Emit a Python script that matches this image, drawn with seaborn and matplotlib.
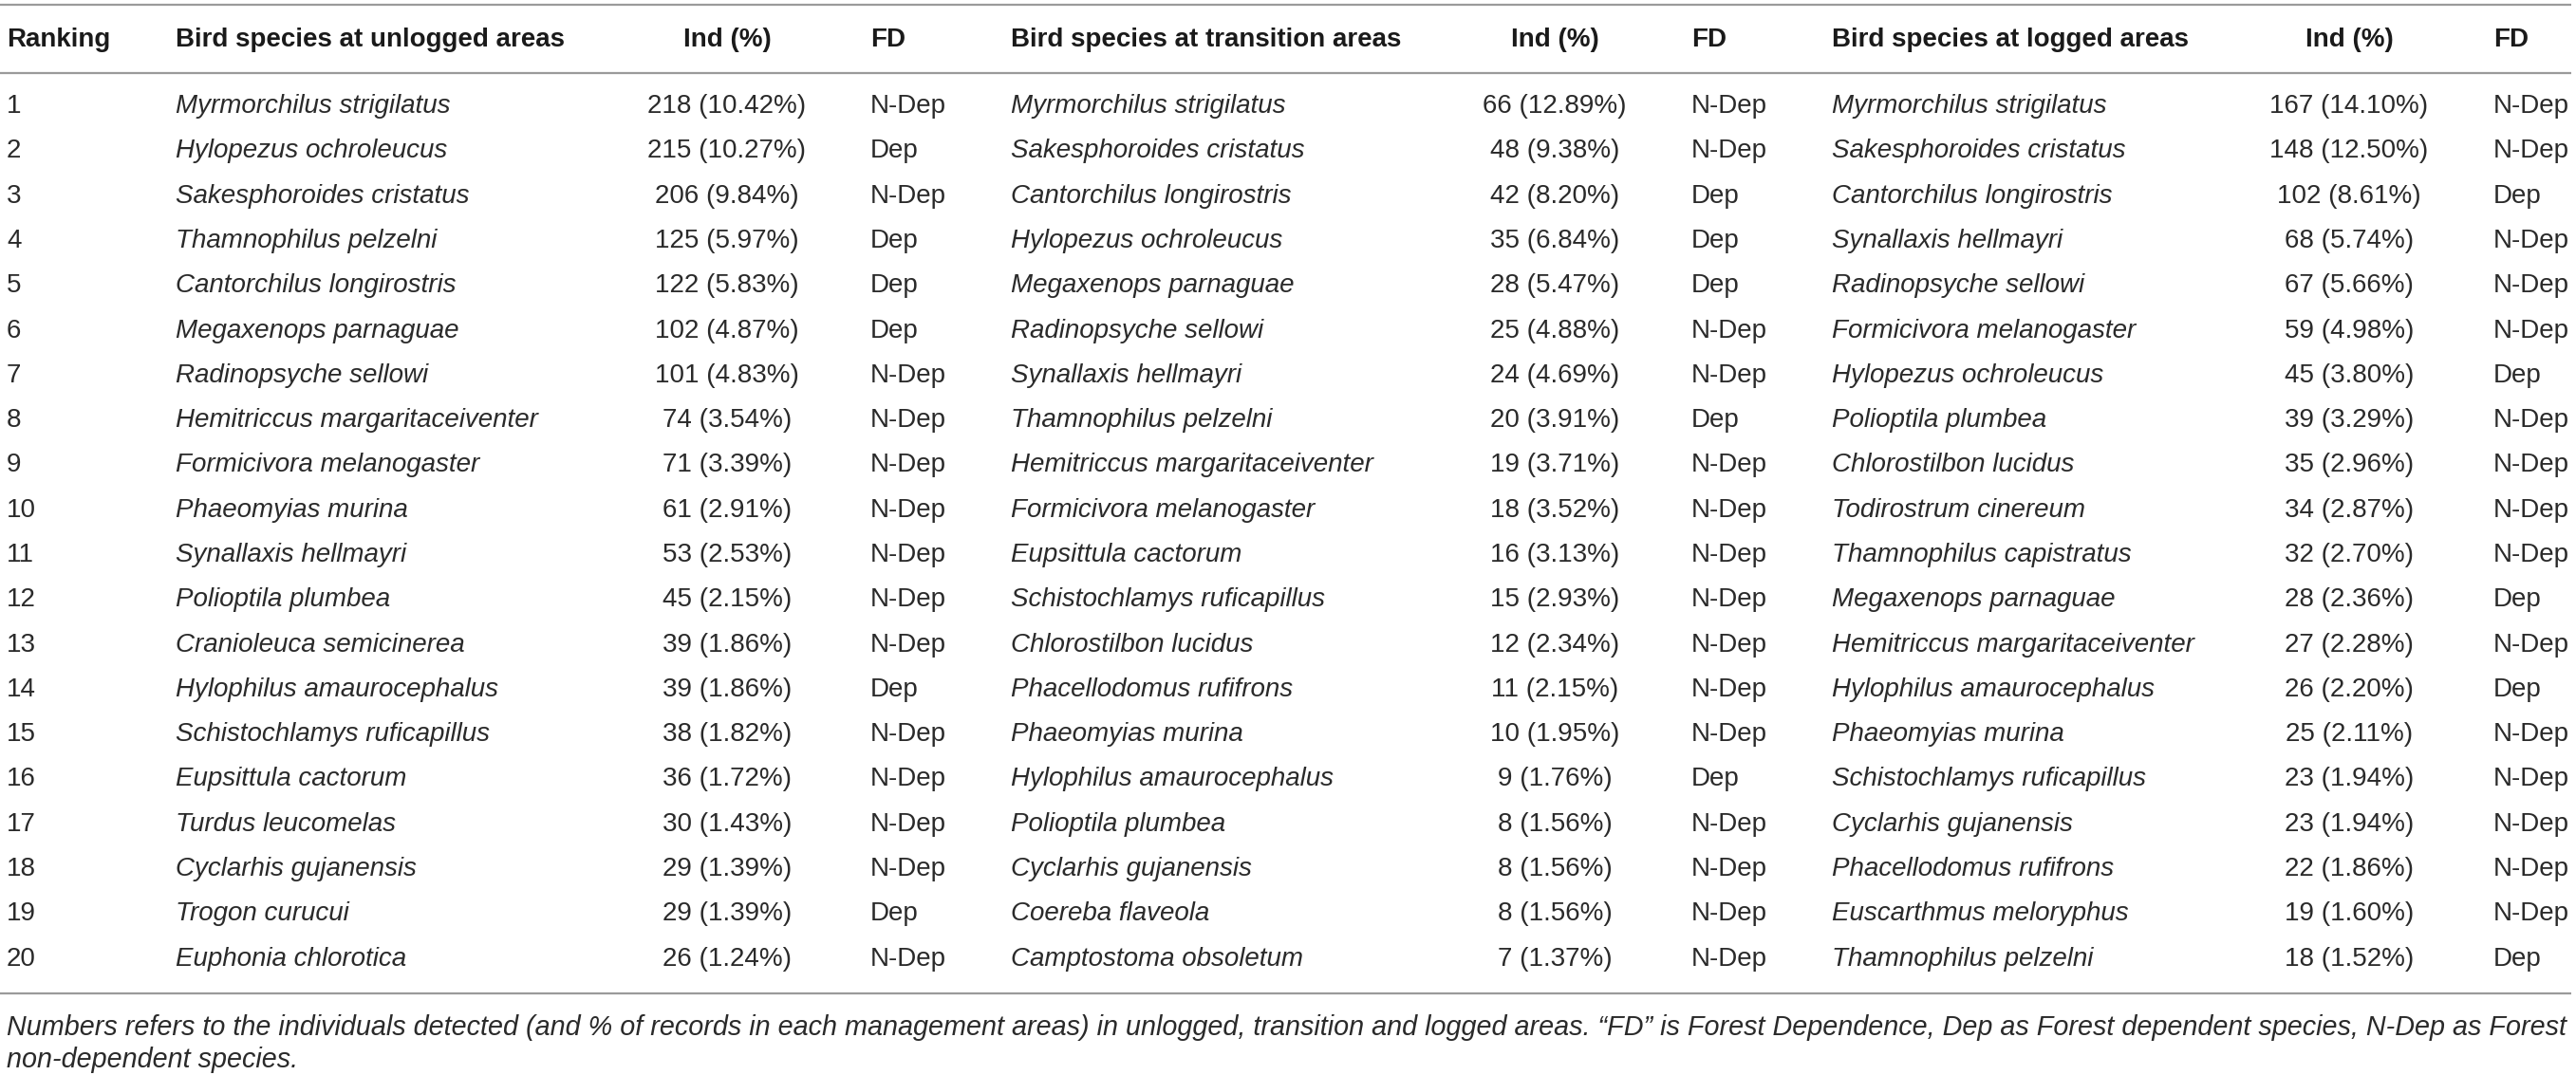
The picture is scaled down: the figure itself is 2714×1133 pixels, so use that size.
import matplotlib
matplotlib.use("Agg")
import matplotlib.pyplot as plt
import seaborn as sns
import pandas as pd

# ---------------- data ----------------
ranking = list(range(1, 21))

unlogged_species = [
    "Myrmorchilus strigilatus", "Hylopezus ochroleucus", "Sakesphoroides cristatus",
    "Thamnophilus pelzelni", "Cantorchilus longirostris", "Megaxenops parnaguae",
    "Radinopsyche sellowi", "Hemitriccus margaritaceiventer", "Formicivora melanogaster",
    "Phaeomyias murina", "Synallaxis hellmayri", "Polioptila plumbea",
    "Cranioleuca semicinerea", "Hylophilus amaurocephalus", "Schistochlamys ruficapillus",
    "Eupsittula cactorum", "Turdus leucomelas", "Cyclarhis gujanensis",
    "Trogon curucui", "Euphonia chlorotica"]
unlogged_n = [218, 215, 206, 125, 122, 102, 101, 74, 71, 61, 53, 45, 39, 39, 38, 36, 30, 29, 29, 26]
unlogged_pct = [10.42, 10.27, 9.84, 5.97, 5.83, 4.87, 4.83, 3.54, 3.39, 2.91, 2.53, 2.15,
                1.86, 1.86, 1.82, 1.72, 1.43, 1.39, 1.39, 1.24]
unlogged_fd = ["N-Dep", "Dep", "N-Dep", "Dep", "Dep", "Dep", "N-Dep", "N-Dep", "N-Dep", "N-Dep",
               "N-Dep", "N-Dep", "N-Dep", "Dep", "N-Dep", "N-Dep", "N-Dep", "N-Dep", "Dep", "N-Dep"]

transition_species = [
    "Myrmorchilus strigilatus", "Sakesphoroides cristatus", "Cantorchilus longirostris",
    "Hylopezus ochroleucus", "Megaxenops parnaguae", "Radinopsyche sellowi",
    "Synallaxis hellmayri", "Thamnophilus pelzelni", "Hemitriccus margaritaceiventer",
    "Formicivora melanogaster", "Eupsittula cactorum", "Schistochlamys ruficapillus",
    "Chlorostilbon lucidus", "Phacellodomus rufifrons", "Phaeomyias murina",
    "Hylophilus amaurocephalus", "Polioptila plumbea", "Cyclarhis gujanensis",
    "Coereba flaveola", "Camptostoma obsoletum"]
transition_n = [66, 48, 42, 35, 28, 25, 24, 20, 19, 18, 16, 15, 12, 11, 10, 9, 8, 8, 8, 7]
transition_pct = [12.89, 9.38, 8.20, 6.84, 5.47, 4.88, 4.69, 3.91, 3.71, 3.52, 3.13, 2.93,
                  2.34, 2.15, 1.95, 1.76, 1.56, 1.56, 1.56, 1.37]
transition_fd = ["N-Dep", "N-Dep", "Dep", "Dep", "Dep", "N-Dep", "N-Dep", "Dep", "N-Dep", "N-Dep",
                 "N-Dep", "N-Dep", "N-Dep", "N-Dep", "N-Dep", "Dep", "N-Dep", "N-Dep", "N-Dep", "N-Dep"]

logged_species = [
    "Myrmorchilus strigilatus", "Sakesphoroides cristatus", "Cantorchilus longirostris",
    "Synallaxis hellmayri", "Radinopsyche sellowi", "Formicivora melanogaster",
    "Hylopezus ochroleucus", "Polioptila plumbea", "Chlorostilbon lucidus",
    "Todirostrum cinereum", "Thamnophilus capistratus", "Megaxenops parnaguae",
    "Hemitriccus margaritaceiventer", "Hylophilus amaurocephalus", "Phaeomyias murina",
    "Schistochlamys ruficapillus", "Cyclarhis gujanensis", "Phacellodomus rufifrons",
    "Euscarthmus meloryphus", "Thamnophilus pelzelni"]
logged_n = [167, 148, 102, 68, 67, 59, 45, 39, 35, 34, 32, 28, 27, 26, 25, 23, 23, 22, 19, 18]
logged_pct = [14.10, 12.50, 8.61, 5.74, 5.66, 4.98, 3.80, 3.29, 2.96, 2.87, 2.70, 2.36,
              2.28, 2.20, 2.11, 1.94, 1.94, 1.86, 1.60, 1.52]
logged_fd = ["N-Dep", "N-Dep", "Dep", "N-Dep", "N-Dep", "N-Dep", "Dep", "N-Dep", "N-Dep", "N-Dep",
             "N-Dep", "Dep", "N-Dep", "Dep", "N-Dep", "N-Dep", "N-Dep", "N-Dep", "N-Dep", "Dep"]

headers = ["Ranking",
           "Bird species at unlogged areas", "Ind (%)", "FD",
           "Bird species at transition areas", "Ind (%)", "FD",
           "Bird species at logged areas", "Ind (%)", "FD"]

footnote_lines = [
    "Numbers refers to the individuals detected (and % of records in each management areas) in unlogged, "
    "transition and logged areas. \u201cFD\u201d is Forest Dependence, Dep as Forest dependent species, N-Dep as Forest",
    "non-dependent species.",
]

# ---------------- table frame ----------------
def ind(n, p):
    return f"{n} ({p:.2f}%)"

df = pd.DataFrame({
    "rank": ranking,
    "sp_u": unlogged_species, "ind_u": [ind(n, p) for n, p in zip(unlogged_n, unlogged_pct)], "fd_u": unlogged_fd,
    "sp_t": transition_species, "ind_t": [ind(n, p) for n, p in zip(transition_n, transition_pct)], "fd_t": transition_fd,
    "sp_l": logged_species, "ind_l": [ind(n, p) for n, p in zip(logged_n, logged_pct)], "fd_l": logged_fd,
})

sns.set_theme(style="white")
plt.rcParams["font.family"] = ["Liberation Sans", "DejaVu Sans"]

W, H = 2714, 1133
fig = plt.figure(figsize=(W / 100, H / 100), dpi=100)
ax = fig.add_axes([0, 0, 1, 1])
ax.set_xlim(0, W)
ax.set_ylim(H, 0)
ax.axis("off")

# column layout: (x, alignment, style)
col_x = [7, 185, 766, 917, 1065, 1638, 1782, 1930, 2475, 2627]
col_ha = ["left", "left", "center", "left", "left", "center", "left", "left", "center", "left"]
col_style = ["normal", "italic", "normal", "normal", "italic", "normal", "normal", "italic", "normal", "normal"]
cols = ["rank", "sp_u", "ind_u", "fd_u", "sp_t", "ind_t", "fd_t", "sp_l", "ind_l", "fd_l"]

fs = 20
header_y = 42
row_y0 = 112
row_dy = 47.3
line_color = "#9a9a9a"
text_color = "#2a2a2a"

for x, ha, h in zip(col_x, col_ha, headers):
    ax.text(x, header_y, h, ha=ha, va="center", fontsize=fs, fontweight="bold", color="#1a1a1a")

for i, row in df.iterrows():
    y = row_y0 + i * row_dy
    for x, ha, st, c in zip(col_x, col_ha, col_style, cols):
        ax.text(x, y, str(row[c]), ha=ha, va="center", fontsize=fs, fontstyle=st, color=text_color)

for yl in [5, 77, 1047]:
    ax.plot([0, 2709], [yl, yl], color=line_color, lw=1.6, solid_capstyle="butt")

for k, t in enumerate(footnote_lines):
    ax.text(7, 1083 + k * 34, t, ha="left", va="center", fontsize=20.7, fontstyle="italic", color=text_color)

fig.savefig("out.png", dpi=100)
